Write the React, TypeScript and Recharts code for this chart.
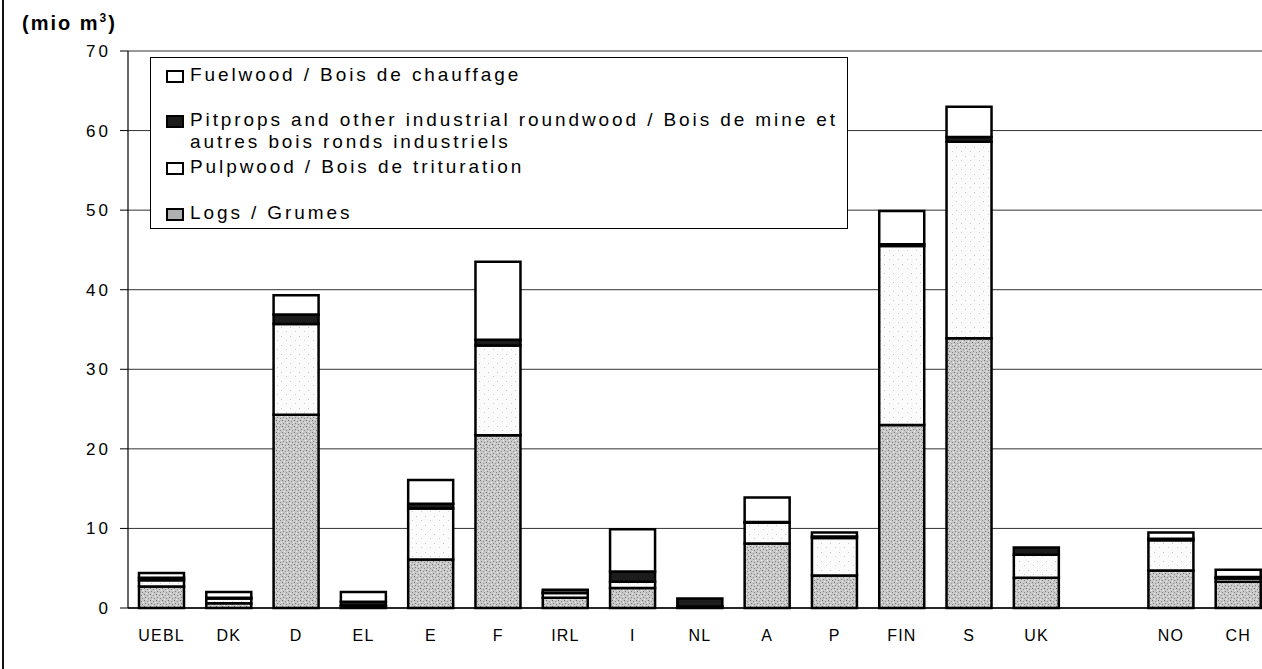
import React from "react";
import { BarChart, Bar, XAxis, YAxis, CartesianGrid, Legend } from "recharts";

const categories = ["UEBL", "DK", "D", "EL", "E", "F", "IRL", "I", "NL", "A", "P", "FIN", "S", "UK", "", "NO", "CH"];
const logs = [2.7, 0.6, 24.3, 0.2, 6.1, 21.7, 1.3, 2.5, 0.2, 8.1, 4.1, 23.0, 33.9, 3.8, null, 4.7, 3.3];
const pulpwood = [0.8, 0.6, 11.4, 0.1, 6.4, 11.3, 0.6, 0.8, 0.0, 2.6, 4.7, 22.5, 24.7, 2.9, null, 3.8, 0.4];
const pitprops = [0.3, 0.1, 1.2, 0.5, 0.6, 0.7, 0.05, 1.3, 1.0, 0.1, 0.2, 0.2, 0.6, 0.9, null, 0.2, 0.2];
const fuelwood = [0.6, 0.7, 2.4, 1.2, 3.0, 9.8, 0.35, 5.3, 0.0, 3.1, 0.5, 4.2, 3.8, 0.0, null, 0.8, 0.9];
const yTicks = [0, 10, 20, 30, 40, 50, 60, 70];

const legendItems = [
  { key: "fuel", lines: ["Fuelwood / Bois de chauffage"], swatch: "#ffffff", top: 18 },
  { key: "pit", lines: ["Pitprops and other industrial roundwood / Bois de mine et", "autres bois ronds industriels"], swatch: "#1c1c1c", top: 63 },
  { key: "pulp", lines: ["Pulpwood / Bois de trituration"], swatch: "#ffffff", top: 110 },
  { key: "logs", lines: ["Logs / Grumes"], swatch: "#b0b0b0", top: 156 },
];

const data = categories.map((c, i) => ({
  name: c,
  logs: logs[i],
  pulpwood: pulpwood[i],
  pitprops: pitprops[i],
  fuelwood: fuelwood[i],
}));

const FONT = "Arial, 'Liberation Sans', Helvetica, sans-serif";

const LegendBox = () => (
  <div
    style={{
      position: "relative",
      width: 698,
      height: 172,
      border: "1.5px solid #000",
      background: "#fff",
      boxSizing: "border-box",
      fontFamily: FONT,
      fontSize: 19,
      letterSpacing: 2.9,
      color: "#000",
    }}
  >
    {legendItems.map((it) => (
      <div key={it.key} style={{ position: "absolute", left: 15, top: it.top - 12, display: "flex", alignItems: "flex-start" }}>
        <div
          style={{
            width: 18,
            height: 13,
            border: "2px solid #000",
            background: it.swatch,
            boxSizing: "border-box",
            marginTop: 6,
            marginRight: 6,
            flex: "none",
          }}
        />
        <div style={{ lineHeight: "22px", whiteSpace: "nowrap" }}>
          {it.lines.map((l, j) => (
            <div key={j}>{l}</div>
          ))}
        </div>
      </div>
    ))}
  </div>
);

export default function App() {
  return (
    <div style={{ position: "absolute", left: 0, top: 0, width: 1262, height: 669, overflow: "hidden", background: "#fff" }}>
      <div style={{ position: "absolute", left: 2, top: 0, width: 2, height: 669, background: "#111" }} />
      <div
        style={{
          position: "absolute",
          left: 22,
          top: 11,
          fontFamily: FONT,
          fontSize: 20,
          fontWeight: "bold",
          letterSpacing: 2,
          color: "#000",
          whiteSpace: "nowrap",
        }}
      >
        (mio m<sup style={{ fontSize: 12 }}>3</sup>)
      </div>
      <BarChart
        width={1274}
        height={669}
        data={data}
        margin={{ top: 51, right: 2, left: 0, bottom: 31 }}
        barSize={45}
        style={{ position: "absolute", left: 0, top: 0 }}
      >
        <defs>
          <pattern id="logsPat" width="6" height="6" patternUnits="userSpaceOnUse">
            <rect width="6" height="6" fill="#c8c8c8" />
            <rect x="0" y="0" width="1" height="1" fill="#707070" />
            <rect x="3" y="1" width="1" height="1" fill="#909090" />
            <rect x="1" y="3" width="1" height="1" fill="#808080" />
            <rect x="4" y="4" width="1" height="1" fill="#858585" />
            <rect x="2" y="5" width="1" height="1" fill="#eee" />
            <rect x="5" y="2" width="1" height="1" fill="#f0f0f0" />
          </pattern>
          <pattern id="pulpPat" width="9" height="9" patternUnits="userSpaceOnUse">
            <rect width="9" height="9" fill="#fbfbfb" />
            <rect x="2" y="3" width="1" height="1" fill="#c8c8c8" />
            <rect x="7" y="7" width="1" height="1" fill="#d0d0d0" />
          </pattern>
        </defs>
        <CartesianGrid horizontal={true} vertical={false} stroke="#333" strokeWidth={1} />
        <XAxis
          dataKey="name"
          height={30}
          axisLine={{ stroke: "#000", strokeWidth: 1.5 }}
          tickLine={false}
          tickSize={0}
          tickMargin={22}
          interval={0}
          tick={{ fill: "#000", fontSize: 16, fontFamily: FONT, letterSpacing: 1.2 }}
        />
        <YAxis
          width={128}
          domain={[0, 70]}
          ticks={yTicks}
          interval={0}
          axisLine={{ stroke: "#000", strokeWidth: 1.2 }}
          tickLine={{ stroke: "#000", strokeWidth: 1 }}
          tickSize={8}
          tickMargin={9}
          tick={{ fill: "#000", fontSize: 17, fontFamily: FONT, letterSpacing: 3 }}
        />
        <Legend
          layout="vertical"
          align="center"
          verticalAlign="middle"
          content={() => <LegendBox />}
          wrapperStyle={{ left: 150, top: 57, width: 698, height: 172 }}
        />
        <Bar dataKey="logs" stackId="a" fill="url(#logsPat)" stroke="#000" strokeWidth={2.5} isAnimationActive={false} />
        <Bar dataKey="pulpwood" stackId="a" fill="url(#pulpPat)" stroke="#000" strokeWidth={2.5} isAnimationActive={false} />
        <Bar dataKey="pitprops" stackId="a" fill="#1c1c1c" stroke="#000" strokeWidth={2.5} isAnimationActive={false} />
        <Bar dataKey="fuelwood" stackId="a" fill="#ffffff" stroke="#000" strokeWidth={2.5} isAnimationActive={false} />
      </BarChart>
    </div>
  );
}
